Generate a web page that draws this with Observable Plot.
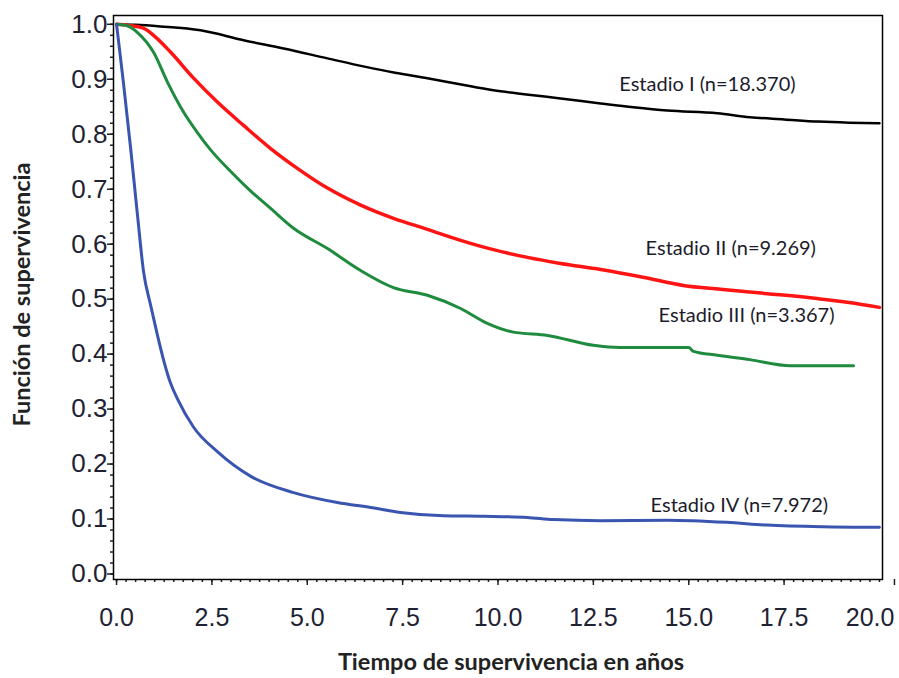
<!DOCTYPE html>
<html><head><meta charset="utf-8">
<script src="https://cdn.jsdelivr.net/npm/d3@7"></script>
<script src="https://cdn.jsdelivr.net/npm/@observablehq/plot@0.6"></script>
<style>body{margin:0;background:#fff}</style>
</head><body><div id="chart"></div>
<script>
// Kaplan-Meier curves (time in years, survival)
const stage1T = [0, 0.5, 1.15, 2.2, 3.33, 4.38, 5.53, 6.5, 7.3, 8.15, 9.0, 9.88, 10.8, 11.64, 12.69, 13.55, 14.44, 15.75, 16.6, 17.5, 18.4, 19.2, 20.0];
const stage1S = [1.0, 0.999, 0.996, 0.989, 0.971, 0.956, 0.938, 0.923, 0.912, 0.902, 0.891, 0.880, 0.872, 0.865, 0.856, 0.849, 0.843, 0.838, 0.831, 0.827, 0.823, 0.821, 0.820];

const stage2T = [0, 0.3, 0.7, 1.0, 1.42, 2.02, 2.65, 3.33, 4.04, 4.74, 5.53, 6.4, 7.26, 8.15, 9.02, 9.88, 10.77, 11.64, 12.69, 13.8, 14.86, 15.83, 17.06, 18.37, 19.2, 20.0];
const stage2S = [1.0, 0.998, 0.993, 0.978, 0.949, 0.902, 0.858, 0.816, 0.774, 0.738, 0.702, 0.671, 0.647, 0.627, 0.607, 0.590, 0.576, 0.565, 0.554, 0.540, 0.525, 0.518, 0.510, 0.501, 0.494, 0.485];

const stage3T = [0, 0.3, 0.55, 0.97, 1.34, 1.76, 2.12, 2.46, 2.91, 3.51, 4.04, 4.64, 5.53, 6.4, 7.26, 8.15, 9.02, 9.72, 10.4, 11.3, 12.5, 13.2, 15.0, 15.12, 15.75, 16.6, 17.67, 19.32];
const stage3S = [1.0, 0.997, 0.985, 0.949, 0.894, 0.840, 0.803, 0.772, 0.738, 0.697, 0.665, 0.629, 0.592, 0.552, 0.521, 0.507, 0.483, 0.456, 0.440, 0.434, 0.416, 0.412, 0.412, 0.405, 0.398, 0.390, 0.379, 0.379];

const stage4T = [0, 0.18, 0.37, 0.55, 0.71, 0.89, 1.07, 1.23, 1.4, 1.6, 2.02, 2.65, 3.51, 4.64, 5.79, 6.66, 7.44, 8.57, 9.62, 10.77, 11.45, 12.7, 14.44, 16.0, 17.06, 18.5, 20.0];
const stage4S = [1.0, 0.894, 0.774, 0.652, 0.549, 0.490, 0.435, 0.390, 0.350, 0.318, 0.267, 0.222, 0.178, 0.148, 0.130, 0.121, 0.112, 0.106, 0.105, 0.103, 0.099, 0.097, 0.098, 0.094, 0.089, 0.086, 0.085];

const stageNames = ["Estadio I", "Estadio II", "Estadio III", "Estadio IV"];
const stageLabels = ["Estadio I (n=18.370)", "Estadio II (n=9.269)", "Estadio III (n=3.367)", "Estadio IV (n=7.972)"];
const labelT = [13.18, 13.87, 14.21, 14.0];
const labelS = [0.891, 0.592, 0.470, 0.125];

const xMajor = [0, 2.5, 5, 7.5, 10, 12.5, 15, 17.5];
const xLast = [20];
const xMinor = d3.range(0, 20.001, 0.25);
const yMajor = [0, 0.1, 0.2, 0.3, 0.4, 0.5, 0.6, 0.7, 0.8, 0.9, 1.0];
const yMinor = d3.range(0, 1.0001, 0.02);

const xTitle = "Tiempo de supervivencia en años";
const yTitle = "Función de supervivencia";

const colors = ["#000000", "#ff1414", "#1f8b3f", "#3a55b0"];
const widths = [2.5, 3.5, 3, 3];

const seriesT = [stage1T, stage2T, stage3T, stage4T];
const seriesS = [stage1S, stage2S, stage3S, stage4S];
const curves = seriesT.map((ts, k) => ts.map((t, i) => ({stage: stageNames[k], t, S: seriesS[k][i]})));
const labels = stageLabels.map((label, i) => ({label, t: labelT[i], S: labelS[i]}));

const xAxisStyle = {tickSize: 6, tickPadding: 23, tickFormat: d => d.toFixed(1), fontSize: 25, strokeWidth: 1.5, label: null, fill: "#1e2233"};

const chart = Plot.plot({
  width: 899,
  height: 678,
  marginLeft: 113,
  marginRight: 17,
  marginTop: 15,
  marginBottom: 99,
  style: {fontFamily: "'Liberation Sans', Arial, sans-serif", background: "#fff", color: "#222"},
  x: {domain: [-0.08, 20.08]},
  y: {domain: [-0.01, 1.016]},
  marks: [
    Plot.axisX(xMinor, {tickSize: 3, text: null, strokeWidth: 1.5, label: null}),
    Plot.axisX(xMajor, xAxisStyle),
    Plot.axisX(xLast, {...xAxisStyle, textAnchor: "end", dx: 15}),
    Plot.axisY(yMinor, {tickSize: 3, text: null, strokeWidth: 1.5, label: null}),
    Plot.axisY(yMajor, {tickSize: 6, tickPadding: 0, tickFormat: d => d.toFixed(1), fontSize: 26, strokeWidth: 1.5, label: null, fill: "#1e2233"}),
    ...curves.map((c, k) => Plot.line(c, {x: "t", y: "S", stroke: colors[k], strokeWidth: widths[k], curve: "monotone-x"})),
    Plot.text(labels, {x: "t", y: "S", text: "label", textAnchor: "start", fontSize: 20, fontFamily: "Lato, 'Open Sans', sans-serif", fill: "#1c1c2c"}),
    Plot.text([xTitle], {frameAnchor: "bottom", dy: 83, dx: 13, textAnchor: "middle", lineAnchor: "middle", fontSize: 23.5, fontWeight: "bold", fontFamily: "Lato, 'Open Sans', sans-serif", fill: "#222"}),
    Plot.text([yTitle], {frameAnchor: "left", dx: -91, dy: -3, rotate: -90, textAnchor: "middle", lineAnchor: "middle", fontSize: 23.5, fontWeight: "bold", fontFamily: "Lato, 'Open Sans', sans-serif", fill: "#222"}),
    Plot.frame({stroke: "#000", strokeWidth: 1.5})
  ]
});
document.getElementById("chart").append(chart);
</script>
</body></html>
